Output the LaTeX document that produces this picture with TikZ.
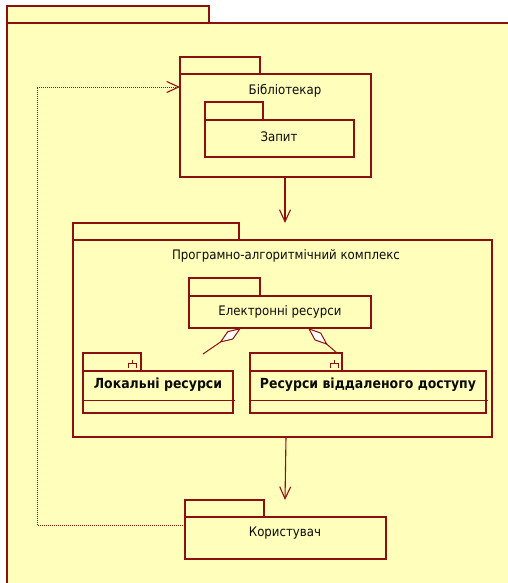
\documentclass[tikz,border=0pt]{standalone}
\usepackage{fontspec}
\setmainfont{DejaVu Sans Condensed}
\usetikzlibrary{arrows.meta}
\definecolor{pkgfill}{RGB}{255,255,187}
\definecolor{pkgline}{RGB}{140,16,16}
\definecolor{txt}{RGB}{10,10,10}
\tikzset{
  pkg/.style={draw=pkgline, fill=pkgfill, line width=1.1pt, anchor=north west, inner sep=0pt, outer sep=0pt},
  lbl/.style={font=\fontsize{13.1}{15}\selectfont, text=txt, inner sep=0pt},
  blbl/.style={font=\fontsize{13.9}{16}\selectfont\bfseries, text=txt, inner sep=0pt},
  conn/.style={draw=pkgline, line width=1.1pt},
  openarrow/.style={-{Straight Barb[length=12pt,width=11pt,line width=1.1pt]}},
  aggr/.style={{Diamond[length=26pt,width=10pt,fill=white,line width=1pt]}-},
}
\begin{document}
\begin{tikzpicture}[x=1pt,y=-1pt]
\useasboundingbox (0,0) rectangle (507,583);
% outer package
\node[pkg, minimum width=202, minimum height=17] (outertab) at (7,6) {};
\node[pkg, minimum width=520, minimum height=580] (outer) at (7,23) {};
% Bibliotekar
\node[pkg, minimum width=80, minimum height=17] (libtab) at (180,57) {};
\node[pkg, minimum width=191, minimum height=103] (lib) at (180,74) {};
\node[lbl] (libtxt) at (285,91) {Бібліотекар};
% Zapyt
\node[pkg, minimum width=58, minimum height=18] (zaptab) at (205,102) {};
\node[pkg, minimum width=149, minimum height=37] (zap) at (205,120) {};
\node[lbl] (zaptxt) at (279,137) {Запит};
% Programno
\node[pkg, minimum width=166, minimum height=17] (progtab) at (73,223) {};
\node[pkg, minimum width=419, minimum height=197] (prog) at (73,240) {};
\node[lbl] (progtxt) at (286,256) {Програмно-алгоритмічний комплекс};
% Elektronni
\node[pkg, minimum width=71, minimum height=18] (eltab) at (189,278) {};
\node[pkg, minimum width=182, minimum height=32] (el) at (189,296) {};
\node[lbl] (eltxt) at (280,312) {Електронні ресурси};
% Lokalni
\node[pkg, minimum width=58, minimum height=18] (loctab) at (83,353) {};
\node[pkg, minimum width=150, minimum height=42] (loc) at (83,371) {};
\node[blbl] (loctxt) at (158,385) {Локальні ресурси};
\draw[conn, line width=0.9pt] (loc.west |- 0,400) -- (235,400);
% Remote
\node[pkg, minimum width=92, minimum height=18] (remtab) at (250,353) {};
\node[pkg, minimum width=236, minimum height=42] (rem) at (250,371) {};
\node[blbl] (remtxt) at (368,385) {Ресурси віддаленого доступу};
\draw[conn, line width=0.9pt] (rem.west |- 0,400) -- (488,400);
% symbols in tabs
\draw[conn, line width=0.9pt] (132.5,359.5) -- (132.5,363.5) (128.5,367.5) -- (128.5,363.5) -- (136.5,363.5) -- (136.5,367.5);
\draw[conn, line width=0.9pt] (334,359.5) -- (334,363.5) (330,367.5) -- (330,363.5) -- (338,363.5) -- (338,367.5);
% Korystuvach
\node[pkg, minimum width=79, minimum height=17] (kortab) at (185,500) {};
\node[pkg, minimum width=201, minimum height=42] (kor) at (185,517) {};
\node[lbl] (kortxt) at (285,533) {Користувач};
% connectors
\draw[conn, openarrow] (lib.south -| 285,0) -- (progtab.north -| 285,0);
\draw[conn, openarrow] (prog.south -| 286,0) -- (kortab.north -| 285,0);
\coordinate (aggl) at (241,328);
\coordinate (aggr) at (308,328);
\coordinate (locend) at (203,354);
\draw[conn, line width=1pt, aggr] (aggl) -- (locend);
\draw[conn, line width=1pt, aggr] (aggr) -- (remtab.north -| 337,0);
\draw[conn, line width=0.9pt, dash pattern=on 1pt off 1pt, openarrow] (kor.west |- 0,525) -- (37,525) -- (37,87) -- (lib.west |- 0,87);
\end{tikzpicture}
\end{document}
